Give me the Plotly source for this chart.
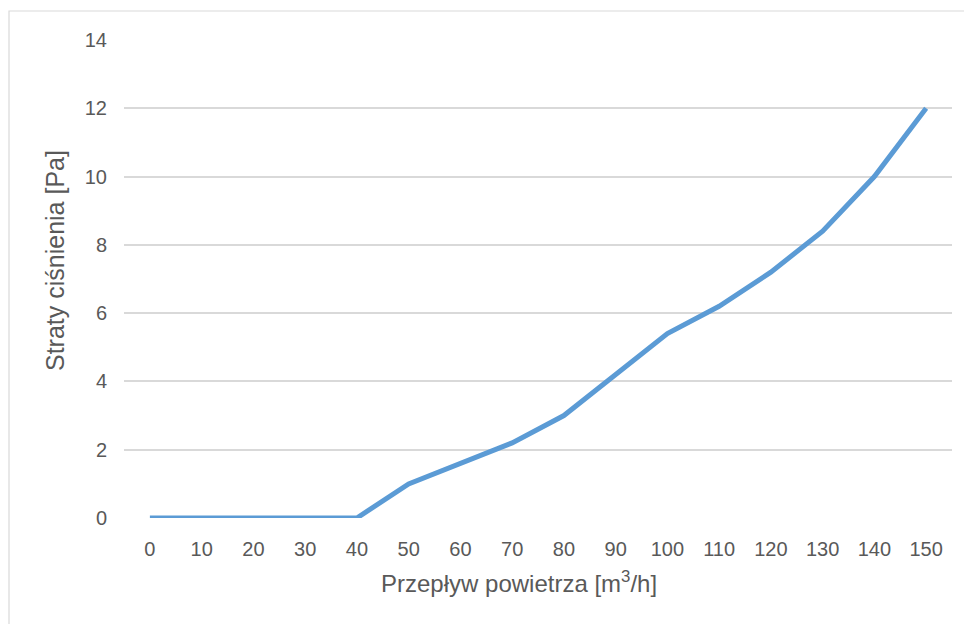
import plotly.graph_objects as go

flow = [0, 10, 20, 30, 40, 50, 60, 70, 80, 90, 100, 110, 120, 130, 140, 150]
losses = [0, 0, 0, 0, 0, 1.0, 1.6, 2.2, 3.0, 4.2, 5.4, 6.2, 7.2, 8.4, 10.0, 12.0]
y_ticks = [0, 2, 4, 6, 8, 10, 12, 14]

OFF = 8  # page body margin in the browser
W, H = 972, 624
L, T = 124 - OFF, 40 - OFF
pw, ph = 828, 478
R = W - L - pw
B = H - T - ph

fig = go.Figure()
fig.add_trace(go.Scatter(
    x=[str(v) for v in flow], y=losses, mode="lines",
    line=dict(color="#5B9BD5", width=5),
    hoverinfo="skip", showlegend=False,
))

def px_x(p):
    return (p - OFF - L) / pw

def px_y(p):
    return (T + ph - (p - OFF)) / ph

fig.add_shape(type="rect", xref="paper", yref="paper",
              x0=px_x(9), x1=px_x(1000), y0=px_y(660), y1=px_y(11),
              line=dict(color="#D9D9D9", width=1.2), fillcolor="rgba(0,0,0,0)", layer="below")

fam = "Liberation Sans, Arial, sans-serif"
fig.add_annotation(text="Przepływ powietrza [m<sup>3</sup>/h]", xref="paper", yref="paper",
                   x=px_x(519), y=px_y(582), xanchor="center", yanchor="middle",
                   showarrow=False, font=dict(size=24, color="#595959", family=fam))
fig.add_annotation(text="Straty ciśnienia [Pa]", xref="paper", yref="paper",
                   x=px_x(55), y=px_y(261), xanchor="center", yanchor="middle",
                   textangle=-90, showarrow=False, font=dict(size=25, color="#595959", family=fam))

fig.update_layout(
    width=W, height=H,
    margin=dict(l=L, r=R, t=T, b=B),
    paper_bgcolor="white", plot_bgcolor="white",
    font=dict(family=fam, color="#595959"),
    xaxis=dict(
        type="category", range=[-0.5, len(flow) - 0.5],
        showgrid=False, zeroline=False, showline=False, ticks="",
        tickfont=dict(size=20, color="#595959"),
        ticklabelstandoff=17,
    ),
    yaxis=dict(
        range=[0, 14], tickvals=y_ticks, ticktext=[str(v) for v in y_ticks],
        showgrid=True, gridcolor="#D9D9D9", gridwidth=1.5,
        zeroline=False, showline=False, ticks="",
        tickfont=dict(size=20, color="#595959"),
        ticklabelstandoff=16,
    ),
)

fig.write_html("out.html")
